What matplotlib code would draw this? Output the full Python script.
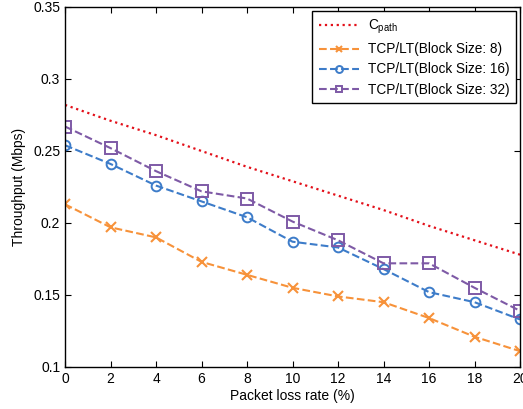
import matplotlib
matplotlib.use('Agg')
import matplotlib.pyplot as plt

plt.rcParams['font.family'] = ['Liberation Sans', 'DejaVu Sans']
plt.rcParams['mathtext.fontset'] = 'custom'
plt.rcParams['mathtext.rm'] = 'Liberation Sans'

loss = [0, 2, 4, 6, 8, 10, 12, 14, 16, 18, 20]
c_path = [0.282, 0.271, 0.261, 0.250, 0.239, 0.229, 0.219, 0.209, 0.198, 0.188, 0.178]
bs8 = [0.213, 0.197, 0.190, 0.173, 0.164, 0.155, 0.149, 0.145, 0.134, 0.121, 0.111]
bs16 = [0.254, 0.241, 0.226, 0.215, 0.204, 0.187, 0.183, 0.168, 0.152, 0.145, 0.133]
bs32 = [0.267, 0.252, 0.236, 0.222, 0.217, 0.201, 0.188, 0.172, 0.172, 0.155, 0.139]
yticks = [0.1, 0.15, 0.2, 0.25, 0.3, 0.35]
ytick_labels = ['0.1', '0.15', '0.2', '0.25', '0.3', '0.35']

fig = plt.figure(figsize=(5.23, 4.09), dpi=100)
ax = fig.add_axes([0.1243, 0.1027, 0.8700, 0.8802])

ax.plot(loss, c_path, ':', color='#e3101a', lw=1.6, label=r'C$_\mathregular{path}$')
ax.plot(loss, bs8, '--', color='#f7923a', lw=1.5, marker='x', ms=7, mew=1.5,
        label='TCP/LT(Block Size: 8)')
ax.plot(loss, bs16, '--', color='#3d7cc9', lw=1.5, marker='o', ms=7, mew=1.4,
        mfc='none', label='TCP/LT(Block Size: 16)')
ax.plot(loss, bs32, '--', color='#7e5aa6', lw=1.5, marker='s', ms=8, mew=1.4,
        mfc='none', label='TCP/LT(Block Size: 32)')

ax.set_xlim(0, 20)
ax.set_ylim(0.1, 0.35)
ax.set_xticks(loss)
ax.set_yticks(yticks)
ax.set_yticklabels(ytick_labels)
ax.tick_params(direction='in', top=True, right=True, labelsize=10, length=4)
ax.set_xlabel('Packet loss rate (%)', fontsize=10, labelpad=2)
ax.set_ylabel('Throughput (Mbps)', fontsize=10, labelpad=5)
for s in ax.spines.values():
    s.set_linewidth(1.0)

leg = ax.legend(loc='upper right', fontsize=9.8, frameon=True, fancybox=False,
                edgecolor='black', framealpha=1, borderaxespad=0.3,
                handlelength=2.95, handletextpad=0.6, labelspacing=0.45,
                borderpad=0.5)
leg.get_frame().set_linewidth(1.0)
for h in leg.legend_handles:
    h.set_markersize(5)

fig.savefig('out.png', dpi=100)
